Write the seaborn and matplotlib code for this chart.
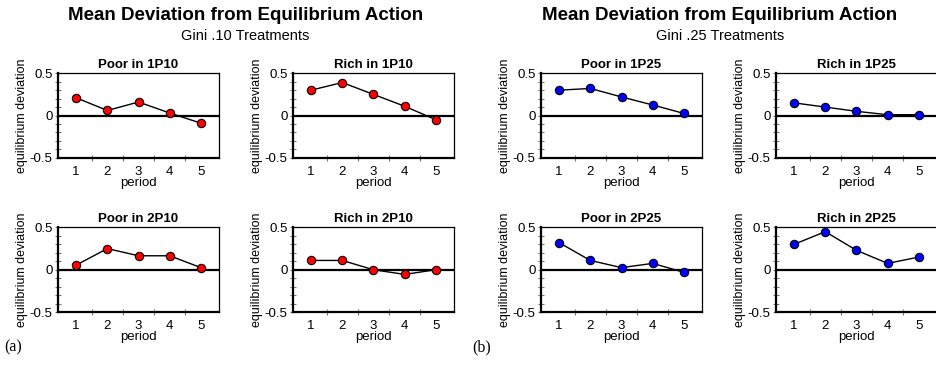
import seaborn as sns
import pandas as pd
import matplotlib.pyplot as plt
import numpy as np

sns.set_style("ticks")
plt.rcParams['font.family'] = ['Liberation Sans', 'DejaVu Sans']
plt.rcParams.update({"text.color": "black", "axes.labelcolor": "black",
                     "xtick.labelcolor": "black", "ytick.labelcolor": "black",
                     "axes.edgecolor": "black"})

periods = [1, 2, 3, 4, 5]

# gini .10 treatments
poor_1p10 = [0.21, 0.06, 0.16, 0.03, -0.09]
rich_1p10 = [0.30, 0.39, 0.25, 0.11, -0.05]
poor_2p10 = [0.055, 0.25, 0.165, 0.165, 0.025]
rich_2p10 = [0.11, 0.11, 0.0, -0.055, 0.0]

# gini .25 treatments
poor_1p25 = [0.30, 0.32, 0.22, 0.125, 0.025]
rich_1p25 = [0.15, 0.10, 0.05, 0.01, 0.01]
poor_2p25 = [0.32, 0.11, 0.025, 0.075, -0.03]
rich_2p25 = [0.30, 0.45, 0.23, 0.075, 0.15]

panels = [
    ("Poor in 1P10", poor_1p10, "red", (0.062, 0.571)),
    ("Rich in 1P10", rich_1p10, "red", (0.313, 0.571)),
    ("Poor in 2P10", poor_2p10, "red", (0.062, 0.152)),
    ("Rich in 2P10", rich_2p10, "red", (0.313, 0.152)),
    ("Poor in 1P25", poor_1p25, "blue", (0.578, 0.571)),
    ("Rich in 1P25", rich_1p25, "blue", (0.829, 0.571)),
    ("Poor in 2P25", poor_2p25, "blue", (0.578, 0.152)),
    ("Rich in 2P25", rich_2p25, "blue", (0.829, 0.152)),
]

fig = plt.figure(figsize=(9.36, 3.68), dpi=100)

for title, vals, col, (x0, y0) in panels:
    ax = fig.add_axes([x0, y0, 0.172, 0.23])
    df = pd.DataFrame({"period": periods, "dev": vals})
    ax.axhline(0, color="black", lw=1.6, zorder=1)
    sns.lineplot(data=df, x="period", y="dev", ax=ax, color="black", lw=1.0,
                 marker="o", markersize=6, markerfacecolor=col,
                 markeredgecolor="black", markeredgewidth=0.8, zorder=3)
    ax.set_xlim(0.42, 5.58)
    ax.set_ylim(-0.5, 0.5)
    ax.set_xticks(periods)
    ax.set_xticklabels([str(p) for p in periods], fontsize=9.5)
    ax.tick_params(axis="x", which="major", length=0, pad=6)
    ax.set_xticks([1.5, 2.5, 3.5, 4.5], minor=True)
    ax.tick_params(axis="x", which="minor", direction="inout", length=5,
                   width=0.8, color="#777777")
    ax.set_yticks([-0.5, 0, 0.5])
    ax.set_yticklabels(["-0.5", "0", "0.5"], fontsize=9.5)
    ax.set_yticks(np.arange(-0.4, 0.45, 0.1), minor=True)
    ax.tick_params(axis="y", which="both", direction="inout", length=4,
                   width=0.8, color="#777777", pad=2)
    for s in ["top", "right"]:
        ax.spines[s].set_linewidth(0.9)
    for s in ["left", "bottom"]:
        ax.spines[s].set_linewidth(1.6)
    ax.set_xlabel("period", fontsize=9.5, labelpad=-1)
    ax.set_ylabel("equilibrium deviation", fontsize=9, labelpad=1)
    ax.set_title(title, fontsize=9.5, fontweight="bold", pad=4)

fig.text(0.262, 0.958, "Mean Deviation from Equilibrium Action", ha="center",
         va="center", fontsize=13.5, fontweight="bold")
fig.text(0.262, 0.903, "Gini .10 Treatments", ha="center", va="center", fontsize=10.5)
fig.text(0.769, 0.958, "Mean Deviation from Equilibrium Action", ha="center",
         va="center", fontsize=13.5, fontweight="bold")
fig.text(0.769, 0.903, "Gini .25 Treatments", ha="center", va="center", fontsize=10.5)

fig.text(0.005, 0.055, "(a)", family=["Liberation Serif", "DejaVu Serif"],
         fontsize=11.5, va="center")
fig.text(0.505, 0.055, "(b)", family=["Liberation Serif", "DejaVu Serif"],
         fontsize=11.5, va="center")

fig.savefig("out.png", dpi=100)
